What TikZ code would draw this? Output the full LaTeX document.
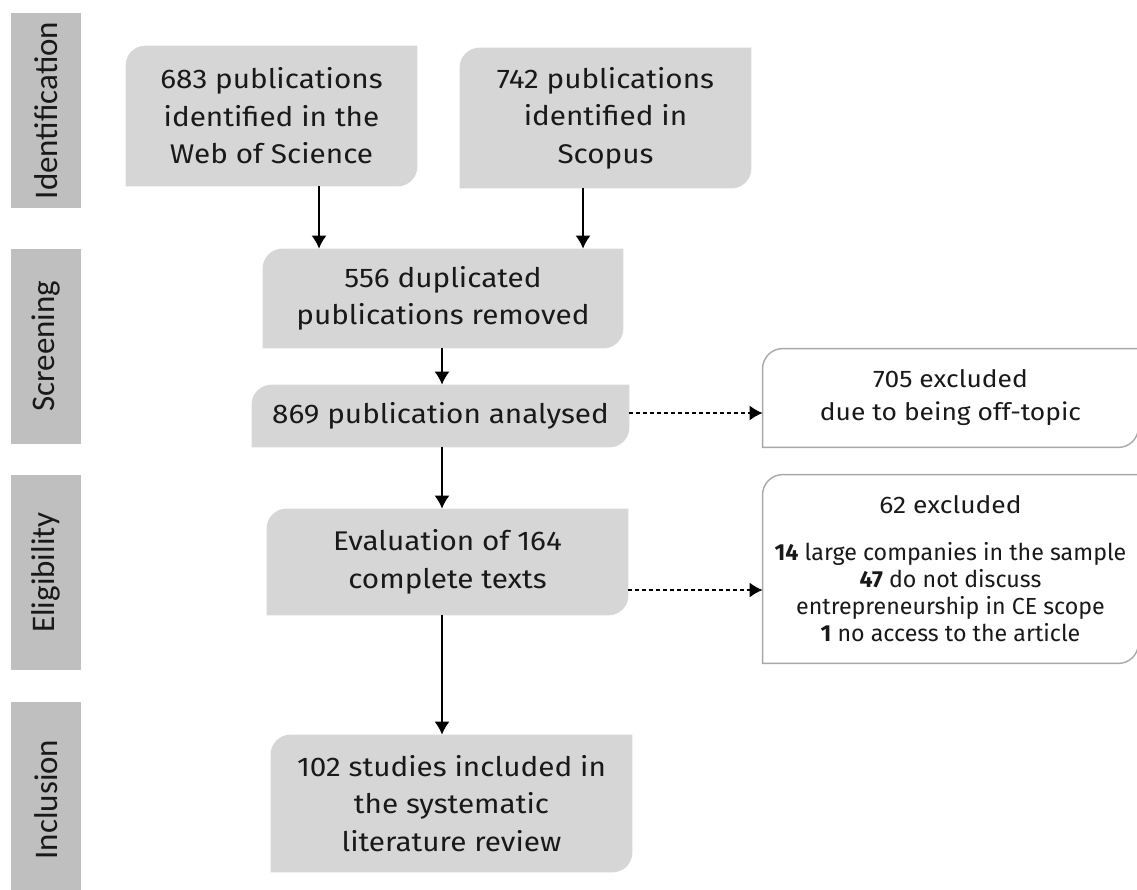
\documentclass[tikz,border=0pt]{standalone}
\usepackage{fontspec}
\setmainfont{Fira Sans}
\newfontfamily\stagefont{Fira Sans}[FakeStretch=1.1]
\newfontfamily\phasefont{Carlito}
\usetikzlibrary{arrows.meta,backgrounds}

\definecolor{phasegrey}{RGB}{191,191,191}
\definecolor{boxgrey}{RGB}{214,214,214}
\definecolor{edgegrey}{RGB}{168,168,168}
\definecolor{ink}{RGB}{25,25,25}

% box outline with rounded top-left and bottom-right corners
\newlength\leafr
\setlength\leafr{10pt}
\newcommand\leafbox[2]{%
  \path[#2] ([yshift=-\leafr]#1.north west)
    arc[start angle=180,end angle=90,radius=\leafr]
    -- (#1.north east)
    -- ([yshift=\leafr]#1.south east)
    arc[start angle=0,end angle=-90,radius=\leafr]
    -- (#1.south west) -- cycle;}

% heading size used in the exclusion boxes
\newcommand\exclhead{\stagefont\fontsize{12}{16.5}\selectfont}

\begin{document}
\begin{tikzpicture}[x=0.5pt,y=-0.5pt, text=ink,
  phase/.style={fill=phasegrey, minimum width=97.5pt, minimum height=35pt,
    inner sep=0, rotate=90, font=\phasefont\fontsize{16.5}{18}\selectfont},
  stage/.style={inner sep=0, align=center,
    font=\stagefont\fontsize{13.5}{18.7}\selectfont},
  excl/.style={inner sep=0, align=center, font=\fontsize{11.6}{13.5}\selectfont},
  arr/.style={-{Latex[length=6.5pt,width=7.5pt]}, line width=0.75pt, draw=black},
  darr/.style={arr, dash pattern=on 2pt off 1.5pt}]

\useasboundingbox (0,0) rectangle (1137,890);

% phase labels
\node[phase] (pid)  at (46,110.5) {Identification};
\node[phase] (pscr) at (46,346)   {Screening};
\node[phase] (pel)  at (46,572.5) {Eligibility};
\node[phase] (pinc) at (46,799.5) {Inclusion};

% stages
\node[stage, minimum width=145.5pt, minimum height=70pt] (A) at (271.5,116)
  {683 publications\\identified in the\\Web of Science};
\node[stage, minimum width=145.5pt, minimum height=70pt] (B) at (605.5,118)
  {742 publications\\identified in\\Scopus};
\node[stage, minimum width=180pt, minimum height=49.5pt] (C) at (443,298.5)
  {556 duplicated\\publications removed};
\node[stage, minimum width=188.5pt, minimum height=31pt] (D) at (440.5,416)
  {869 publication analysed};
\node[stage, minimum width=180.5pt, minimum height=53pt] (E) at (447.5,562)
  {Evaluation of 164\\complete texts};
\node[stage, minimum width=180.5pt, minimum height=68.5pt] (F) at (451.5,803.5)
  {102 studies included in\\the systematic\\literature review};

% exclusions
\node[excl, font=\exclhead, minimum width=187.5pt, minimum height=49pt] (G) at (950.5,398)
  {705 excluded\\due to being off-topic};
\node[excl, minimum width=187.5pt, minimum height=94pt] (H) at (950.5,569)
  {{\exclhead 62 excluded}\\[10pt]\textbf{14} large companies in the sample\\
   \textbf{47} do not discuss\\entrepreneurship in CE scope\\
   \textbf{1} no access to the article};

\begin{scope}[on background layer]
  \foreach \n in {A,B,C,D,E,F} {\leafbox{\n}{fill=boxgrey}}
  \foreach \n in {G,H} {\leafbox{\n}{fill=white, draw=edgegrey, line width=0.7pt}}
\end{scope}

% connectors
\coordinate (xa) at (319,0);
\coordinate (xb) at (583,0);
\coordinate (xm) at (442,0);
\coordinate (yg) at (0,413);
\coordinate (yh) at (0,590);
\draw[arr] (A.south -| xa) -- (C.north -| xa);
\draw[arr] (B.south -| xb) -- (C.north -| xb);
\draw[arr] (C.south -| xm) -- (D.north -| xm);
\draw[arr] (D.south -| xm) -- (E.north -| xm);
\draw[arr] (E.south -| xm) -- (F.north -| xm);
\draw[darr] (D.east |- yg) -- (G.west |- yg);
\draw[darr] (E.east |- yh) -- (H.west |- yh);
\end{tikzpicture}
\end{document}
